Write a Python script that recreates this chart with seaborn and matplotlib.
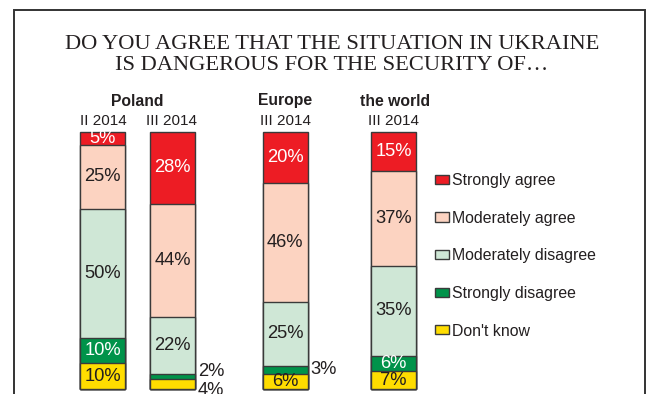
import matplotlib
matplotlib.use("Agg")
import matplotlib.pyplot as plt
from matplotlib.patches import Patch, Rectangle
import pandas as pd
import seaborn as sns

# Survey answers, share of respondents (%)
bars = ["Poland II 2014", "Poland III 2014", "Europe III 2014", "World III 2014"]
categories = ["Strongly agree", "Moderately agree", "Moderately disagree",
              "Strongly disagree", "Don't know"]
strongly_agree = [5, 28, 20, 15]
moderately_agree = [25, 44, 46, 37]
moderately_disagree = [50, 22, 25, 35]
strongly_disagree = [10, 2, 3, 6]
dont_know = [10, 4, 6, 7]

group_titles = ["Poland", "Europe", "the world"]
wave_labels = ["II 2014", "III 2014", "III 2014", "III 2014"]
title = "DO YOU AGREE THAT THE SITUATION IN UKRAINE\nIS DANGEROUS FOR THE SECURITY OF\u2026"

# ---- layout (figure pixels) ----
W, H = 655, 394
bar_x = [102.5, 172.5, 285.0, 393.5]       # bar centres
bar_w = 45.0
base_px = 5.0                               # zero line, from figure bottom
px_per_pct = 2.57

colors = {
    "Strongly agree": "#ED1C24",
    "Moderately agree": "#FCD3C1",
    "Moderately disagree": "#CFE7D6",
    "Strongly disagree": "#00934A",
    "Don't know": "#FFDD00",
}
text_on = {
    "Strongly agree": "white",
    "Moderately agree": "#231F20",
    "Moderately disagree": "#231F20",
    "Strongly disagree": "white",
    "Don't know": "#231F20",
}
edge = "#3A3A3A"
ink = "#231F20"

values = {
    "Strongly agree": strongly_agree,
    "Moderately agree": moderately_agree,
    "Moderately disagree": moderately_disagree,
    "Strongly disagree": strongly_disagree,
    "Don't know": dont_know,
}

# long table with the stacked extent of each segment (bottom -> top is reverse of categories)
rows = []
for i, b in enumerate(bars):
    cum = 0
    for cat in reversed(categories):
        v = values[cat][i]
        rows.append({"bar": b, "pos": bar_x[i], "category": cat,
                     "value": v, "low": cum, "top": cum + v})
        cum += v
df = pd.DataFrame(rows)

sns.set_theme(style="white")
plt.rcParams["font.family"] = ["Liberation Sans", "DejaVu Sans"]

fig = plt.figure(figsize=(W / 100, H / 100), dpi=100)
ax = fig.add_axes([0, 0, 1, 1])

# draw cumulative totals from the tallest down so each segment sits on the ones below
min_gap = min(b - a for a, b in zip(bar_x, bar_x[1:]))
for cat in categories:
    sub = df[df["category"] == cat]
    sns.barplot(data=sub, x="pos", y="top", native_scale=True,
                width=bar_w / min_gap, color=colors[cat], saturation=1,
                edgecolor=edge, linewidth=1.0, errorbar=None, ax=ax)

ax.set_xlim(0, W)
ax.set_ylim(-base_px / px_per_pct, (H - base_px) / px_per_pct)
ax.set_axis_off()

# segment labels; the thin ones go beside the bar
label_fs = 13.2
outside = {("Poland III 2014", "Strongly disagree"): 3,
           ("Poland III 2014", "Don't know"): -5,
           ("Europe III 2014", "Strongly disagree"): 0}
for _, r in df.iterrows():
    mid = (r["low"] + r["top"]) / 2
    key = (r["bar"], r["category"])
    if key in outside:
        ax.annotate(f"{r['value']}%", (r["pos"] + bar_w / 2, mid),
                    xytext=(2, outside[key]), textcoords="offset points",
                    ha="left", va="center", fontsize=label_fs, color=ink)
    else:
        ax.text(r["pos"], mid, f"{r['value']}%", ha="center", va="center",
                fontsize=label_fs, color=text_on[r["category"]])

# column headings
def fx(px):
    return px / W

def fy(py):
    return 1 - py / H

heading_x = [137, 285, 395]
for x, t in zip(heading_x, group_titles):
    fig.text(fx(x), fy(101), t, ha="center", va="center",
             fontsize=11.3, fontweight="bold", color=ink)
wave_x = [103, 172, 285, 393]
for x, t in zip(wave_x, wave_labels):
    fig.text(fx(x), fy(121), t, ha="center", va="center", fontsize=11, color=ink)

fig.text(fx(332), fy(55), title, ha="center", va="center", fontsize=16.2,
         family="Liberation Serif", color=ink, linespacing=1.2)

# legend
handles = [Patch(facecolor=colors[c], edgecolor=edge, linewidth=1.0) for c in categories]
fs = 11.4
fs_px = fs * 100 / 72
fig.legend(handles, categories, loc="upper left",
           bbox_to_anchor=(fx(435), fy(173)), bbox_transform=fig.transFigure,
           frameon=False, fontsize=fs, labelcolor=ink,
           handlelength=14 / fs_px, handleheight=8 / fs_px,
           handletextpad=3 / fs_px, labelspacing=1.43,
           borderpad=0, borderaxespad=0)

# outer frame, open at the bottom edge of the image
fig.patches.append(Rectangle((fx(14), -0.1), (645 - 14) / W, 1.1 - 10 / H,
                             transform=fig.transFigure, fill=False,
                             edgecolor="#333333", linewidth=1.4))

fig.savefig("out.png", dpi=100)
